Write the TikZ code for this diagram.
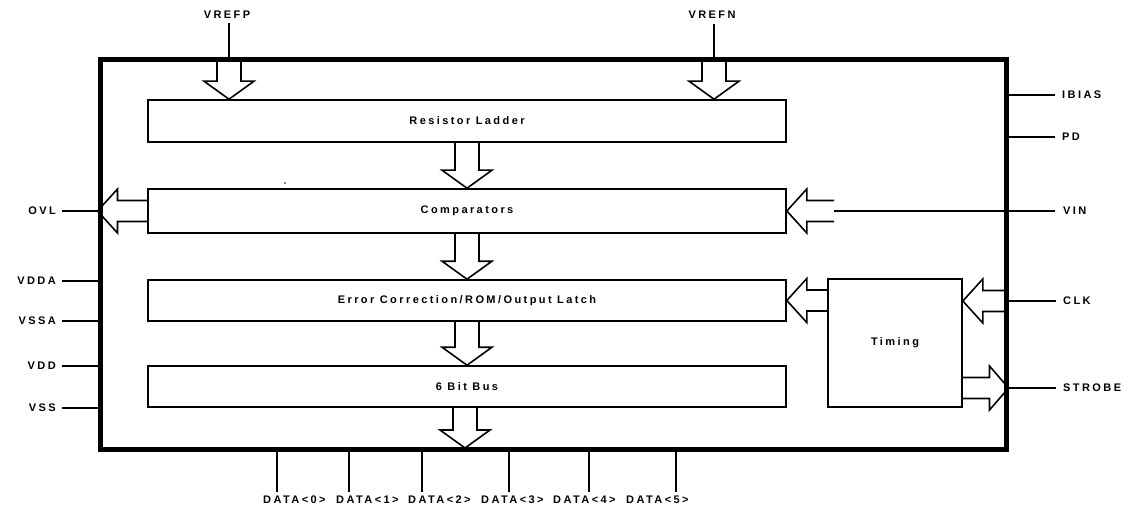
\documentclass[tikz,border=0pt]{standalone}
\usepackage{fontspec}
\setmainfont{Liberation Sans}[LetterSpace=22]
\usetikzlibrary{calc}
\tikzset{
  txt/.style={font=\bfseries\fontsize{11}{13}\selectfont},
  blk/.style={txt, draw, line width=1.6pt, inner sep=0pt},
  pin/.style={line width=1.6pt},
  lbl/.style={txt, inner sep=0pt},
  bdown/.style={line width=1.6pt, to path={let \p1=(\tikztostart), \p2=(\tikztotarget) in
     (\x1-12pt,\y1) -- (\x1-12pt,\y2+18pt) -- (\x1-25pt,\y2+18pt) -- (\x2,\y2)
     -- (\x1+25pt,\y2+18pt) -- (\x1+12pt,\y2+18pt) -- (\x1+12pt,\y1)}},
  bleft/.style={line width=1.6pt, to path={let \p1=(\tikztostart), \p2=(\tikztotarget) in
     (\x1,\y1+10.5pt) -- (\x2+20pt,\y1+10.5pt) -- (\x2+20pt,\y1+22pt) -- (\x2,\y1)
     -- (\x2+20pt,\y1-22pt) -- (\x2+20pt,\y1-10.5pt) -- (\x1,\y1-10.5pt)}},
  bright/.style={line width=1.6pt, to path={let \p1=(\tikztostart), \p2=(\tikztotarget) in
     (\x1,\y1+10.5pt) -- (\x2-19pt,\y1+10.5pt) -- (\x2-19pt,\y1+22pt) -- (\x2,\y1)
     -- (\x2-19pt,\y1-22pt) -- (\x2-19pt,\y1-10.5pt) -- (\x1,\y1-10.5pt)}},
}
\begin{document}
\begin{tikzpicture}[x=1pt,y=-1pt]
\useasboundingbox[fill=white] (0,0) rectangle (1130,508);
% outer chip box
\node[draw, line width=5pt, minimum width=906pt, minimum height=389pt, inner sep=0pt] (outer) at (553,254.5) {};
% inner blocks
\node[blk, minimum width=638pt, minimum height=42pt] (ladder) at (467,121) {Resistor Ladder};
\node[blk, minimum width=638pt, minimum height=44pt] (comp) at (467,211) {Comparators};
\node[blk, minimum width=638pt, minimum height=41pt] (err) at (467,300.5) {Error Correction/ROM/Output Latch};
\node[blk, minimum width=638pt, minimum height=41pt] (bus) at (467,386.5) {6 Bit Bus};
\node[blk, minimum width=134pt, minimum height=128pt] (timing) at (895,343) {Timing};
% top labels
\node[lbl] (vrefpL) at (227,15) {VREFP};
\node[lbl] (vrefnL) at (712,15) {VREFN};
\coordinate (vp) at (229,60);
\coordinate (vn) at (714,60);
\draw[pin, shorten >=4pt] (vp) -- (vp |- vrefpL.south);
\draw[pin, shorten >=5pt] (vn) -- (vn |- vrefnL.south);
% vertical block arrows
\draw[bdown] (vp) to (vp |- ladder.north);
\draw[bdown] (vn) to (vn |- ladder.north);
\draw[bdown] (ladder.south) to (comp.north);
\draw[bdown] (comp.south) to (err.north);
\draw[bdown] (err.south) to (bus.north);
\coordinate (busout) at (465,448);
\draw[bdown] (bus.south -| busout) to (busout);
% left labels
\node[lbl, anchor=east] (ovl) at (56,211) {OVL};
\node[lbl, anchor=east] (vdda) at (56,281) {VDDA};
\node[lbl, anchor=east] (vssa) at (56,321) {VSSA};
\node[lbl, anchor=east] (vdd) at (56,366) {VDD};
\node[lbl, anchor=east] (vss) at (56,408) {VSS};
\foreach \n in {ovl,vdda,vssa,vdd,vss}
  \draw[pin] ([xshift=6pt]\n.east) -- (outer.west |- \n.east);
\draw[bleft] (comp.west) to (comp.west -| outer.west);
% right labels
\node[lbl, anchor=west] (ibias) at (1062,95) {IBIAS};
\node[lbl, anchor=west] (pd) at (1062,137) {PD};
\node[lbl, anchor=west] (vin) at (1063,211) {VIN};
\node[lbl, anchor=west] (clk) at (1063,301) {CLK};
\node[lbl, anchor=west] (strobe) at (1063,388) {STROBE};
\foreach \n in {ibias,pd,clk,strobe}
  \draw[pin] (outer.east |- \n.west) -- ([xshift=-7pt]\n.west);
\coordinate (vinS) at (834,211);
\draw[pin] (vinS) -- ([xshift=-8pt]vin.west);
\draw[bleft] (vinS) to (comp.east);
\draw[bleft] (outer.east |- clk.west) to (timing.east |- clk.west);
\draw[bleft] (timing.west |- err.east) to (err.east);
\draw[bright] (timing.east |- strobe.west) to (outer.east |- strobe.west);
% bottom data pins
\foreach \k/\lx/\px in {0/263/277, 1/336/349, 2/408/422, 3/481/509, 4/553/589, 5/626/676}{
  \node[lbl, anchor=west] (d\k) at (\lx,500) {DATA<\k>};
  \coordinate (p\k) at (\px,492);
  \draw[pin] (p\k |- outer.south) -- (p\k);
}
% stray dot
\fill (285,183) circle (0.8pt);
\end{tikzpicture}
\end{document}
